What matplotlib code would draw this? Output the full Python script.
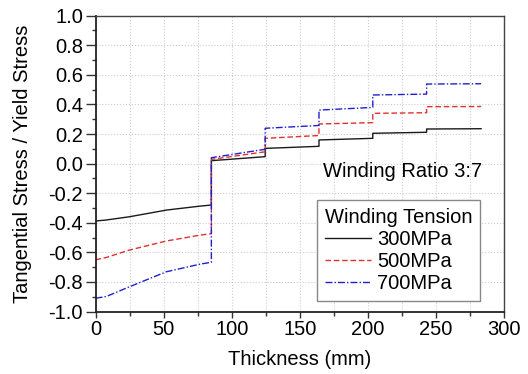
import numpy as np
import matplotlib.pyplot as plt
from matplotlib.ticker import MultipleLocator

plt.rcParams['font.family'] = ['Liberation Sans', 'DejaVu Sans']

# thickness positions (mm); each step is drawn as a repeated x
x = [0, 8, 25, 52, 77, 85, 85, 124.5, 124.5, 164, 164, 203.5, 203.5, 243, 243, 283]

# tangential stress / yield stress
s300 = [-0.388, -0.381, -0.359, -0.314, -0.287, -0.280, 0.020, 0.047, 0.103, 0.117, 0.160, 0.171, 0.205, 0.212, 0.234, 0.236]
s500 = [-0.650, -0.634, -0.584, -0.523, -0.483, -0.474, 0.029, 0.080, 0.171, 0.190, 0.268, 0.277, 0.340, 0.344, 0.385, 0.386]
s700 = [-0.910, -0.898, -0.832, -0.731, -0.679, -0.667, 0.040, 0.097, 0.239, 0.258, 0.362, 0.380, 0.464, 0.470, 0.538, 0.540]

labels = ['300MPa', '500MPa', '700MPa']

fs = 14.5

fig = plt.figure(figsize=(5.28, 3.74), dpi=100)
ax = fig.add_axes([0.181, 0.167, 0.774, 0.791])

ax.plot(x, s300, color='#1a1a1a', lw=1.0, ls='-', label=labels[0])
ax.plot(x, s500, color='#e03030', lw=1.0, ls=(0, (4, 2)), label=labels[1])
ax.plot(x, s700, color='#2020d0', lw=1.0, ls=(0, (5, 1.5, 1, 1.5)), label=labels[2])

ax.set_xlim(0, 300)
ax.set_ylim(-1.0, 1.0)
ax.xaxis.set_major_locator(MultipleLocator(50))
ax.xaxis.set_minor_locator(MultipleLocator(25))
ax.yaxis.set_major_locator(MultipleLocator(0.2))
ax.yaxis.set_minor_locator(MultipleLocator(0.1))
ax.yaxis.set_major_formatter(plt.FormatStrFormatter('%.1f'))

ax.grid(True, which='major', axis='y', color='#cccccc', ls=':', lw=0.8)
ax.grid(True, which='both', axis='x', color='#cccccc', ls=':', lw=0.8)
ax.set_axisbelow(True)

ax.tick_params(which='major', direction='out', labelsize=fs, color='#333333', pad=2)
ax.tick_params(axis='y', which='major', length=7, width=1)
ax.tick_params(axis='x', which='major', length=4, width=1)
ax.tick_params(which='minor', direction='out', length=3, width=1, color='#333333')
for side in ['left', 'bottom']:
    ax.spines[side].set_linewidth(1.3)
    ax.spines[side].set_color('#222222')
for side in ['top', 'right']:
    ax.spines[side].set_linewidth(1.0)
    ax.spines[side].set_color('#444444')

ax.set_xlabel('Thickness (mm)', fontsize=fs, labelpad=8)
ax.set_ylabel('Tangential Stress / Yield Stress', fontsize=fs, labelpad=12)

ax.text(0.945, 0.473, 'Winding Ratio 3:7', transform=ax.transAxes, fontsize=fs,
        ha='right', va='center')

leg = ax.legend(title='Winding Tension', loc='lower right', bbox_to_anchor=(0.941, 0.035),
                fontsize=fs, title_fontsize=fs, frameon=True, fancybox=False,
                edgecolor='#888888', framealpha=1, handlelength=2.3, handletextpad=0.3,
                borderpad=0.4, labelspacing=0.15, borderaxespad=0)
leg.get_frame().set_linewidth(1.0)
leg._legend_box.align = 'left'

plt.savefig('out.png', dpi=100)
